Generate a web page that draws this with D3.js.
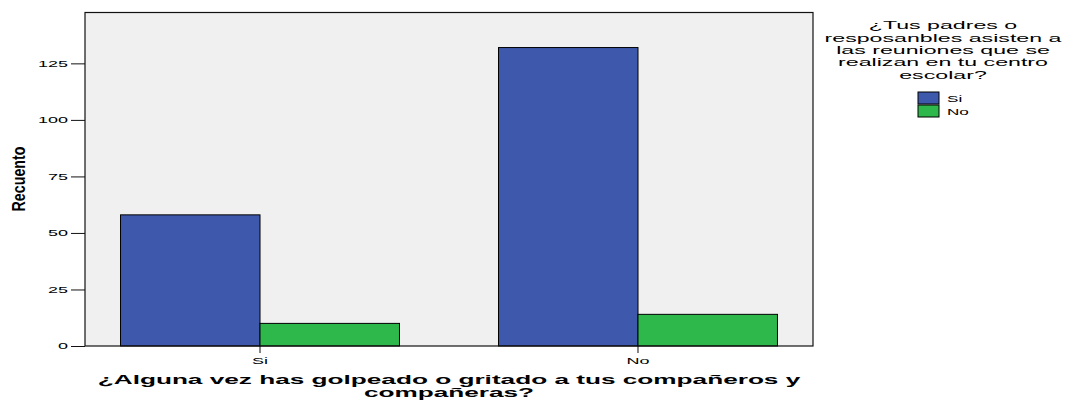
<!DOCTYPE html>
<html><head><meta charset="utf-8">
<script src="https://cdn.jsdelivr.net/npm/d3@7"></script>
<style>
body{margin:0;background:#fff}
text{font-family:"Liberation Sans",Arial,sans-serif;fill:#000}
</style></head>
<body><svg id="c" width="1069" height="400"></svg>
<script>
const categories = ["Si", "No"];
const seriesNames = ["Si", "No"];
const valuesSi = [58, 132];
const valuesNo = [10, 14];
const yTicks = [0, 25, 50, 75, 100, 125];
const yMax = 147.5;
const yTitle = "Recuento";
const xTitleLines = ["¿Alguna vez has golpeado o gritado a tus compañeros y", "compañeras?"];
const legendTitleLines = ["¿Tus padres o", "resposanbles asisten a", "las reuniones que se", "realizan en tu centro", "escolar?"];
const colors = ["#3e58ac", "#2eb84b"];

const svg = d3.select("#c");
const L = 85, T = 12.5, R = 813, B = 346;

const x0 = d3.scaleBand().domain(categories).range([L, R]).paddingInner(0.262).paddingOuter(0.094);
const x1 = d3.scaleBand().domain(seriesNames).range([0, x0.bandwidth()]).padding(0);
const y = d3.scaleLinear().domain([0, yMax]).range([B, T]);

// plot background
svg.append("rect").attr("x", L).attr("y", T).attr("width", R - L).attr("height", B - T)
  .attr("fill", "#f0f0f0");

// bars
const data = categories.map((c, i) => ({cat: c, vals: [valuesSi[i], valuesNo[i]]}));
const g = svg.append("g");
data.forEach(d => {
  d.vals.forEach((v, j) => {
    g.append("rect")
      .attr("x", x0(d.cat) + x1(seriesNames[j]))
      .attr("y", y(v))
      .attr("width", x1.bandwidth())
      .attr("height", y(0) - y(v))
      .attr("fill", colors[j])
      .attr("stroke", "#000").attr("stroke-width", 1);
  });
});

// frame
svg.append("rect").attr("x", L).attr("y", T).attr("width", R - L).attr("height", B - T)
  .attr("fill", "none").attr("stroke", "#111").attr("stroke-width", 1.2);

// y axis
const yAx = svg.append("g").attr("transform", `translate(${L},0)`)
  .call(d3.axisLeft(y).tickValues(yTicks).tickSize(14).tickPadding(3));
yAx.select(".domain").remove();
yAx.selectAll(".tick line").attr("stroke", "#111");
yAx.selectAll(".tick text").attr("font-size", 9).attr("font-family", "Liberation Sans, Arial, sans-serif")
  .attr("x", -17 / 2).attr("transform", "scale(2,1)");

// x axis
const xAx = svg.append("g").attr("transform", `translate(0,${B})`)
  .call(d3.axisBottom(x0).tickSize(7));
xAx.select(".domain").remove();
xAx.selectAll(".tick line").attr("stroke", "#111");
xAx.selectAll(".tick text").attr("font-size", 9).attr("font-family", "Liberation Sans, Arial, sans-serif")
  .attr("y", 18).attr("dy", 0).attr("transform", "scale(2,1)");

// y title
svg.append("text").attr("transform", "translate(25,179) scale(1.2,1) rotate(-90)")
  .attr("text-anchor", "middle").attr("font-weight", "bold").attr("font-size", 16)
  .attr("textLength", 65).attr("lengthAdjust", "spacingAndGlyphs")
  .text(yTitle);

// x title
const xt = xTitleLines.map((t, i) => svg.append("text")
  .attr("text-anchor", "middle").attr("font-weight", "bold").attr("font-size", 12).text(t));
const sxX = 703 / xt[0].node().getComputedTextLength();
const xtBase = [383.5, 396.5];
xt.forEach((t, i) => t.attr("transform", `translate(449,${xtBase[i]}) scale(${sxX},1)`));

// legend title
const lt = legendTitleLines.map(t => svg.append("text")
  .attr("text-anchor", "middle").attr("font-size", 11).text(t));
const sxL = 237 / lt[1].node().getComputedTextLength();
lt.forEach((t, i) => t.attr("transform", `translate(943,${29.3 + i * 12.3}) scale(${sxL},1)`));

// legend items
const lg = svg.append("g");
seriesNames.forEach((s, i) => {
  const yy = 92 + i * 13;
  lg.append("rect").attr("x", 918).attr("y", yy).attr("width", 21).attr("height", 12)
    .attr("fill", colors[i]).attr("stroke", "#000").attr("stroke-width", 1);
  lg.append("text").attr("font-size", 9)
    .attr("transform", `translate(947,${yy + 10}) scale(1.9,1)`).text(s);
});
</script></body></html>
